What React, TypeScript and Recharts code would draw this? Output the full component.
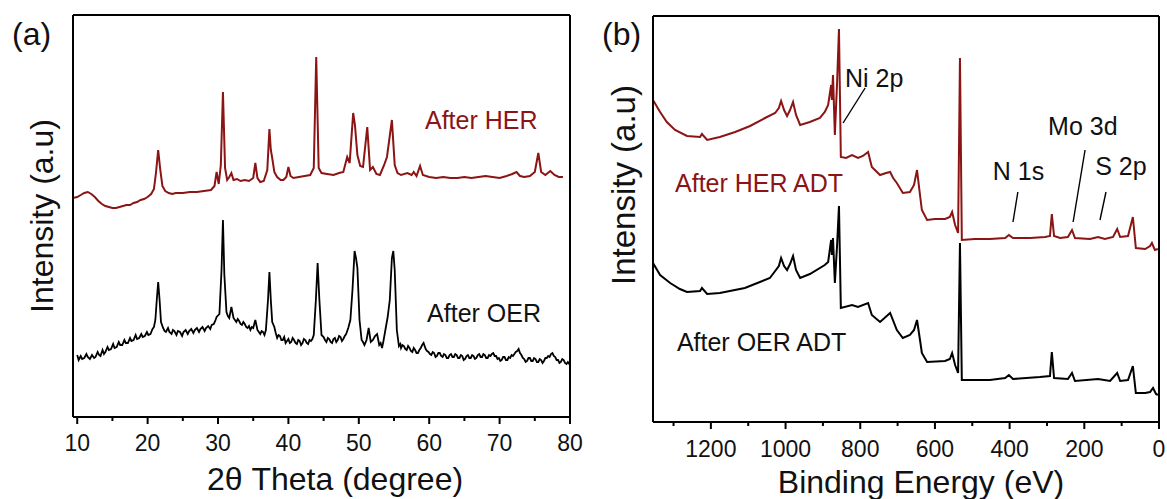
import React from 'react';
import { LineChart, Line, XAxis, YAxis, ReferenceDot, ReferenceLine } from 'recharts';

const RED = '#8b1414';
const FONT = '"Liberation Sans", Arial, sans-serif';

// XRD, 2θ (degree) vs intensity (a.u.)
const xrdHer: [number, number][] = [
  [9.4, 219], [10, 220], [10.5, 222], [11, 224], [11.5, 225], [12, 223], [12.5, 220], [13, 216], [13.5, 213],
  [14, 211], [14.5, 210], [15, 209], [15.5, 209], [16, 210], [16.5, 211], [17, 212], [17.5, 212], [18, 214],
  [18.5, 215], [19, 217], [19.5, 218], [20, 220], [20.5, 223], [20.9, 228], [21.2, 245], [21.5, 267], [21.8, 247],
  [22.1, 231], [22.5, 226], [23, 224], [23.5, 223], [24, 224], [25, 224], [26, 225], [27, 225], [28, 226],
  [29, 227], [29.5, 231], [29.8, 245], [30.1, 233], [30.4, 252], [30.7, 325], [31.0, 249], [31.3, 237],
  [31.6, 240], [31.9, 244], [32.2, 237], [32.7, 238], [33.2, 236], [33.8, 237], [34.4, 236], [35.0, 239],
  [35.3, 254], [35.6, 239], [36.0, 235], [36.5, 236], [37.0, 247], [37.3, 288], [37.5, 267], [37.7, 259],
  [38.0, 245], [38.4, 240], [38.9, 237], [39.3, 237], [39.7, 240], [40.0, 250], [40.3, 241], [40.7, 239],
  [41.5, 240], [42.3, 241], [43.1, 242], [43.6, 249], [43.95, 360], [44.3, 249], [44.7, 244], [45.5, 243],
  [46.4, 242], [47.2, 244], [47.8, 245], [48.35, 260], [48.7, 254], [49.2, 304], [49.45, 292], [49.8, 262],
  [50.2, 251], [50.6, 250], [51.2, 290], [51.6, 247], [52.0, 250], [52.5, 243], [53.0, 242], [53.6, 252],
  [54.0, 260], [54.7, 297], [55.1, 252], [55.5, 244], [56.0, 242], [56.9, 244], [57.5, 242], [57.8, 245],
  [58.2, 241], [58.7, 251], [59.1, 242], [60, 240], [61, 239], [62, 240], [63, 239], [64, 239], [65, 240],
  [66, 239], [67, 240], [68, 241], [69, 240], [70, 239], [71, 241], [71.8, 243], [72.4, 245], [72.9, 241],
  [73.5, 240], [74.3, 241], [75.0, 245], [75.5, 264], [75.9, 245], [76.5, 242], [77.2, 246], [77.8, 242],
  [78.4, 240], [79.0, 240],
];

const xrdOer: [number, number][] = [
  [10, 62], [10.2, 57], [10.5, 61], [10.7, 58], [11, 59], [11.3, 63], [11.5, 60], [11.8, 58], [12.1, 62],
  [12.4, 59], [12.6, 60], [12.9, 65], [13.1, 62], [13.3, 61], [13.6, 67], [13.8, 63], [14, 65], [14.3, 70],
  [14.5, 67], [14.8, 68], [15.1, 73], [15.3, 69], [15.6, 70], [15.9, 75], [16.1, 72], [16.4, 72], [16.7, 77],
  [16.9, 74], [17.2, 74], [17.5, 79], [17.7, 76], [18, 77], [18.3, 82], [18.5, 78], [18.8, 79], [19.1, 83],
  [19.3, 80], [19.6, 81], [19.9, 85], [20.1, 82], [20.4, 83], [20.7, 88], [20.9, 90], [21.1, 97], [21.3, 117],
  [21.5, 135], [21.7, 117], [21.9, 95], [22.2, 89], [22.4, 86], [22.6, 85], [22.9, 89], [23.1, 85], [23.4, 83],
  [23.6, 87], [23.8, 86], [24.1, 82], [24.3, 86], [24.6, 85], [24.9, 81], [25.1, 85], [25.4, 87], [25.7, 83],
  [25.9, 86], [26.2, 88], [26.5, 84], [26.7, 87], [27, 89], [27.3, 85], [27.5, 88], [27.8, 90], [28.1, 86],
  [28.3, 89], [28.6, 91], [28.9, 88], [29.1, 92], [29.4, 93], [29.6, 96], [29.8, 100], [30.2, 103],
  [30.5, 147], [30.7, 197], [30.9, 142], [31.2, 105], [31.4, 101], [31.6, 99], [31.9, 110], [32.2, 99],
  [32.4, 97], [32.6, 95], [32.8, 98], [33, 96], [33.2, 93], [33.4, 92], [33.6, 95], [33.8, 93], [34.0, 90],
  [34.2, 89], [34.4, 91], [34.6, 87], [34.8, 90], [35.0, 89], [35.3, 97], [35.6, 87], [35.8, 85], [36, 83],
  [36.2, 86], [36.4, 85], [36.6, 82], [36.8, 87], [37.1, 117], [37.3, 145], [37.5, 117], [37.7, 95], [38, 90],
  [38.2, 84], [38.4, 79], [38.6, 82], [38.8, 81], [39.0, 77], [39.2, 77], [39.4, 80], [39.6, 74], [39.8, 76],
  [40, 78], [40.2, 74], [40.4, 75], [40.6, 79], [40.8, 77], [41.0, 74], [41.2, 73], [41.4, 77], [41.6, 76],
  [41.8, 72], [42, 74], [42.2, 78], [42.4, 77], [42.6, 74], [42.8, 73], [43.0, 77], [43.2, 76], [43.4, 78],
  [43.6, 82], [43.9, 117], [44.15, 154], [44.4, 117], [44.7, 82], [45, 80], [45.2, 77], [45.4, 75], [45.6, 79],
  [45.8, 78], [46.0, 75], [46.2, 74], [46.4, 78], [46.6, 79], [46.8, 75], [47, 77], [47.2, 81], [47.4, 80],
  [47.6, 76], [47.8, 78], [48.0, 81], [48.2, 83], [48.5, 89], [48.8, 97], [49.1, 127], [49.4, 166], [49.6, 159],
  [49.8, 149], [50.1, 97], [50.4, 77], [50.6, 75], [50.8, 72], [51.1, 77], [51.4, 89], [51.7, 75], [52, 77],
  [52.3, 81], [52.6, 83], [52.9, 72], [53.1, 74], [53.3, 69], [53.5, 76], [53.7, 84], [54.1, 100], [54.4, 117],
  [54.7, 159], [54.9, 166], [55.1, 147], [55.4, 87], [55.7, 71], [55.9, 73], [56, 69], [56.2, 72], [56.4, 71],
  [56.6, 68], [56.8, 67], [57.0, 71], [57.2, 69], [57.4, 66], [57.6, 65], [57.8, 69], [58, 67], [58.2, 64],
  [58.4, 64], [58.6, 67], [58.8, 69], [59.0, 72], [59.2, 74], [59.5, 68], [59.7, 66], [59.9, 65], [60.1, 63],
  [60.3, 62], [60.5, 65], [60.7, 64], [60.9, 60], [61.1, 61], [61.3, 64], [61.5, 64], [61.7, 61], [61.9, 60],
  [62.1, 63], [62.3, 62], [62.5, 59], [62.7, 59], [62.9, 62], [63.1, 63], [63.3, 60], [63.5, 60], [63.7, 63],
  [63.9, 62], [64.1, 59], [64.3, 59], [64.5, 62], [64.7, 61], [64.9, 57], [65.1, 58], [65.3, 61], [65.5, 62],
  [65.7, 59], [65.9, 59], [66.1, 62], [66.3, 61], [66.5, 58], [66.7, 59], [66.9, 62], [67.1, 63], [67.3, 60],
  [67.5, 60], [67.7, 63], [67.9, 62], [68.1, 59], [68.3, 59], [68.5, 62], [68.7, 61], [68.9, 63], [69.1, 64],
  [69.3, 61], [69.5, 61], [69.7, 58], [69.9, 59], [70.1, 56], [70.3, 57], [70.5, 60], [70.7, 60], [70.9, 57],
  [71.1, 57], [71.3, 60], [71.5, 59], [71.7, 62], [71.9, 61], [72.1, 63], [72.3, 65], [72.5, 66], [72.7, 68],
  [72.9, 64], [73.1, 62], [73.3, 59], [73.5, 58], [73.7, 55], [73.9, 56], [74.1, 59], [74.3, 59], [74.5, 56],
  [74.7, 56], [74.9, 59], [75.1, 58], [75.3, 55], [75.5, 55], [75.7, 58], [75.9, 57], [76.1, 54], [76.3, 56],
  [76.5, 59], [76.7, 59], [76.9, 61], [77.1, 60], [77.3, 63], [77.5, 64], [77.7, 61], [77.9, 60], [78.1, 57],
  [78.3, 57], [78.5, 54], [78.7, 55], [78.9, 58], [79.1, 57], [79.3, 54], [79.5, 53], [79.7, 55], [80, 52],
];

// XPS survey, binding energy (eV) vs intensity (a.u.)
const xpsHer: [number, number][] = [
  [1355, 322], [1336, 310], [1318, 300], [1296, 292], [1264, 286], [1229, 285], [1224, 288], [1210, 282],
  [1176, 285], [1135, 290], [1095, 296], [1055, 304], [1028, 309], [1018, 314], [1012, 321], [1004, 312],
  [996, 306], [988, 312], [980, 320], [972, 307], [961, 297], [935, 300], [908, 304], [895, 310], [886, 317],
  [878, 337], [876, 322], [873, 347], [868, 287], [862, 340], [857, 393], [852, 265], [838, 264], [822, 267],
  [806, 264], [793, 266], [779, 270], [769, 255], [747, 247], [731, 249], [720, 250], [712, 244], [702, 239],
  [686, 229], [667, 230], [656, 237], [648, 252], [640, 227], [635, 212], [621, 202], [600, 203], [573, 203],
  [560, 205], [554, 210], [546, 197], [538, 189], [533, 364], [528, 182], [493, 183], [453, 183], [412, 184],
  [402, 187], [391, 184], [345, 184], [305, 185], [292, 186], [287, 208], [281, 186], [265, 184], [244, 185],
  [233, 192], [225, 184], [185, 183], [163, 185], [145, 183], [123, 185], [112, 193], [104, 185], [83, 186],
  [70, 205], [62, 174], [37, 173], [24, 176], [19, 179], [11, 172], [3, 173],
];

const xpsOer: [number, number][] = [
  [1355, 159], [1336, 147], [1309, 139], [1283, 133], [1264, 130], [1229, 131], [1224, 134], [1210, 128],
  [1176, 129], [1109, 134], [1042, 144], [1018, 156], [1012, 164], [1004, 156], [996, 152], [988, 158],
  [980, 166], [972, 152], [961, 144], [935, 148], [895, 157], [886, 160], [878, 182], [876, 167], [873, 184],
  [868, 139], [862, 177], [857, 216], [852, 114], [822, 117], [806, 115], [779, 119], [769, 107], [747, 100],
  [720, 109], [702, 92], [686, 84], [667, 87], [656, 92], [648, 102], [640, 82], [635, 69], [621, 60],
  [573, 61], [560, 63], [554, 69], [546, 57], [538, 49], [533, 179], [528, 42], [453, 42], [412, 44],
  [402, 47], [391, 43], [319, 45], [292, 46], [287, 70], [281, 44], [244, 43], [233, 49], [225, 41],
  [163, 43], [131, 41], [112, 49], [104, 41], [83, 42], [70, 56], [62, 29], [37, 29], [24, 30], [16, 34],
  [8, 28], [3, 27],
];

const xrdTicks = [10, 15, 20, 25, 30, 35, 40, 45, 50, 55, 60, 65, 70, 75, 80];
const xpsTicks = [0, 100, 200, 300, 400, 500, 600, 700, 800, 900, 1000, 1100, 1200, 1300];

const rows = (pts: [number, number][]) => pts.map(([x, y]) => ({ x, y }));

const frame = { stroke: '#000', strokeWidth: 2 };

const makeTick = (step: number, labelDy: number) => (props: any) => {
  const { x, y, payload } = props;
  const major = payload.value % step === 0;
  return (
    <g>
      <line x1={x} x2={x} y1={y} y2={y + (major ? 7 : 4)} stroke="#000" strokeWidth={2} />
      {major && (
        <text x={x} y={y + labelDy} textAnchor="middle" fontSize={23} fill="#111">
          {payload.value}
        </text>
      )}
    </g>
  );
};

const textLabel = (value: string, fill = '#111', fontSize = 25) => ({
  value,
  position: 'right' as const,
  offset: 0,
  fill,
  fontSize,
});

// axes with 1px boxes only carry the frame lines
const XrdPanel = () => (
  <LineChart width={590} height={499} margin={{ top: 14, right: 19, bottom: 22, left: 72 }}>
    <XAxis xAxisId="b" type="number" dataKey="x" domain={[9.4, 80]} ticks={xrdTicks} interval={0}
      allowDataOverflow height={60} tickSize={0} tickMargin={0} tickLine={false} axisLine={frame}
      tick={makeTick(10, 34)} />
    <XAxis xAxisId="t" orientation="top" type="number" dataKey="x" domain={[9.4, 80]} allowDataOverflow
      height={1} tick={false} tickLine={false} axisLine={frame} />
    <YAxis yAxisId="l" type="number" domain={[0, 402]} allowDataOverflow width={1} tick={false}
      tickLine={false} axisLine={frame} />
    <YAxis yAxisId="r" orientation="right" type="number" domain={[0, 402]} width={1} tick={false}
      tickLine={false} axisLine={frame} />
    <Line xAxisId="b" yAxisId="l" data={rows(xrdHer)} dataKey="y" type="linear" stroke={RED}
      strokeWidth={2} dot={false} isAnimationActive={false} />
    <Line xAxisId="b" yAxisId="l" data={rows(xrdOer)} dataKey="y" type="linear" stroke="#000"
      strokeWidth={1.8} dot={false} isAnimationActive={false} />
    <ReferenceDot xAxisId="b" yAxisId="l" x={59.4} y={297} r={0} fill="none" stroke="none"
      label={textLabel('After HER', RED)} />
    <ReferenceDot xAxisId="b" yAxisId="l" x={59.7} y={104} r={0} fill="none" stroke="none"
      label={textLabel('After OER')} />
  </LineChart>
);

const XpsPanel = () => (
  <LineChart width={577} height={499} margin={{ top: 15, right: 7, bottom: 17, left: 62 }}>
    <XAxis xAxisId="b" type="number" dataKey="x" domain={[0, 1355]} reversed ticks={xpsTicks} interval={0}
      allowDataOverflow height={60} tickSize={0} tickMargin={0} tickLine={false} axisLine={frame}
      tick={makeTick(200, 35)} />
    <XAxis xAxisId="t" orientation="top" type="number" dataKey="x" domain={[0, 1355]} reversed
      allowDataOverflow height={1} tick={false} tickLine={false} axisLine={frame} />
    <YAxis yAxisId="l" type="number" domain={[0, 406]} allowDataOverflow width={1} tick={false}
      tickLine={false} axisLine={frame} />
    <YAxis yAxisId="r" orientation="right" type="number" domain={[0, 406]} width={1} tick={false}
      tickLine={false} axisLine={frame} />
    <Line xAxisId="b" yAxisId="l" data={rows(xpsHer)} dataKey="y" type="linear" stroke={RED}
      strokeWidth={2} dot={false} isAnimationActive={false} />
    <Line xAxisId="b" yAxisId="l" data={rows(xpsOer)} dataKey="y" type="linear" stroke="#000"
      strokeWidth={2} dot={false} isAnimationActive={false} />
    {/* peak assignments */}
    <ReferenceLine xAxisId="b" yAxisId="l" segment={[{ x: 787, y: 334 }, { x: 846, y: 299 }]} stroke="#000" strokeWidth={1.4} />
    <ReferenceLine xAxisId="b" yAxisId="l" segment={[{ x: 378, y: 230 }, { x: 391, y: 200 }]} stroke="#000" strokeWidth={1.4} />
    <ReferenceLine xAxisId="b" yAxisId="l" segment={[{ x: 198, y: 272 }, { x: 230, y: 200 }]} stroke="#000" strokeWidth={1.4} />
    <ReferenceLine xAxisId="b" yAxisId="l" segment={[{ x: 142, y: 230 }, { x: 158, y: 202 }]} stroke="#000" strokeWidth={1.4} />
    <ReferenceDot xAxisId="b" yAxisId="l" x={841} y={344} r={0} fill="none" stroke="none" label={textLabel('Ni 2p')} />
    <ReferenceDot xAxisId="b" yAxisId="l" x={297} y={296} r={0} fill="none" stroke="none" label={textLabel('Mo 3d')} />
    <ReferenceDot xAxisId="b" yAxisId="l" x={445} y={251} r={0} fill="none" stroke="none" label={textLabel('N 1s')} />
    <ReferenceDot xAxisId="b" yAxisId="l" x={171} y={256} r={0} fill="none" stroke="none" label={textLabel('S 2p')} />
    <ReferenceDot xAxisId="b" yAxisId="l" x={1296} y={239} r={0} fill="none" stroke="none"
      label={textLabel('After HER ADT', RED)} />
    <ReferenceDot xAxisId="b" yAxisId="l" x={1291} y={80} r={0} fill="none" stroke="none"
      label={textLabel('After OER ADT')} />
  </LineChart>
);

export default function App() {
  return (
    <div style={{ position: 'absolute', left: 0, top: 0, width: 1167, height: 499, background: '#fff', fontFamily: FONT, color: '#111' }}>
      <div style={{ position: 'absolute', left: 0, top: 0 }}>
        <XrdPanel />
      </div>
      <div style={{ position: 'absolute', left: 590, top: 0 }}>
        <XpsPanel />
      </div>
      <svg width={1167} height={499} style={{ position: 'absolute', left: 0, top: 0, pointerEvents: 'none' }}>
        <g fill="#111" fontFamily={FONT}>
          <text x={12} y={45} fontSize={32}>(a)</text>
          <text x={602} y={45} fontSize={32}>(b)</text>
          <text x={335} y={490} fontSize={32} textAnchor="middle">2θ Theta (degree)</text>
          <text x={921} y={493} fontSize={32} textAnchor="middle">Binding Energy (eV)</text>
          <text transform="translate(53 216) rotate(-90)" fontSize={32} textAnchor="middle">Intensity (a.u)</text>
          <text transform="translate(635 185) rotate(-90)" fontSize={33} textAnchor="middle">Intensity (a.u)</text>
        </g>
      </svg>
    </div>
  );
}
